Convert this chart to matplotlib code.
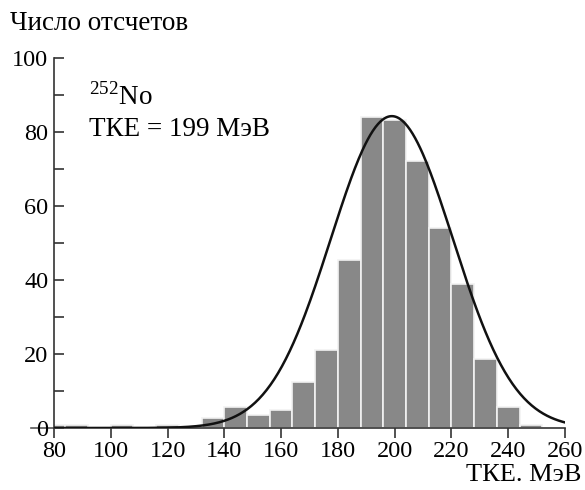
import numpy as np
import matplotlib
matplotlib.use("Agg")
from matplotlib import pyplot as plt
from matplotlib.ticker import MultipleLocator

# histogram of TKE, 8 MeV bins (left edges)
bin_left = [76, 84, 92, 100, 108, 116, 124, 132, 140, 148, 156, 164, 172,
            180, 188, 196, 204, 212, 220, 228, 236, 244]
counts = [0.8, 0.8, 0, 0.8, 0, 0.8, 0, 2.6, 5.8, 3.4, 4.8, 12.5, 21.2,
          45.5, 84.0, 83.2, 72.3, 54.0, 38.8, 18.7, 5.8, 0.9]
bin_width = 8

# gaussian fit
fit_mean = 199.0
fit_sigma = 21.5
fit_amp = 84.3

plt.rcParams['font.family'] = ['Liberation Serif', 'DejaVu Serif']
plt.rcParams['mathtext.fontset'] = 'custom'
plt.rcParams['mathtext.rm'] = 'Liberation Serif'

fig = plt.figure(figsize=(5.85, 4.9), dpi=100)
ax = fig.add_axes([0.0923, 0.1265, 0.8735, 0.755])

ax.bar(bin_left, counts, width=bin_width, align='edge', color='#888888',
       edgecolor='#f2f2f2', linewidth=1.2, zorder=2)

xs = np.linspace(80, 260, 400)
ax.plot(xs, fit_amp * np.exp(-(xs - fit_mean) ** 2 / (2 * fit_sigma ** 2)),
        c='#111111', lw=1.8, zorder=3)

ax.set_xlim(80, 260)
ax.set_ylim(0, 100)
ax.spines['top'].set_visible(False)
ax.spines['right'].set_visible(False)
ax.spines['left'].set_linewidth(1.2)
ax.spines['bottom'].set_linewidth(1.2)
ax.spines['left'].set_color('#333333')
ax.spines['bottom'].set_color('#333333')

ax.xaxis.set_major_locator(MultipleLocator(20))
ax.yaxis.set_major_locator(MultipleLocator(20))
ax.yaxis.set_minor_locator(MultipleLocator(10))
ax.tick_params(axis='x', direction='out', length=7, width=1.2, color='#333333',
               labelsize=17.5, pad=2)
ax.tick_params(axis='y', which='major', direction='in', length=7, width=1.2,
               color='#333333', labelsize=17.5, pad=4)
ax.tick_params(axis='y', which='minor', direction='in', length=7, width=1.2,
               color='#333333')

# short baseline stub left of the y axis
ax.plot([72, 80], [0, 0], c='#555555', lw=1.2, clip_on=False, zorder=1)

ax.text(0.068, 0.895, r'$^{252}$No', transform=ax.transAxes, fontsize=19.5,
        va='center', ha='left')
ax.text(0.068, 0.808, 'ТКЕ = 199 МэВ', transform=ax.transAxes, fontsize=19.5,
        va='center', ha='left')

fig.text(0.017, 0.953, 'Число отсчетов', fontsize=19.5, va='center', ha='left')
fig.text(0.994, 0.03, 'ТКЕ. МэВ', fontsize=19, va='center', ha='right')

fig.savefig('out.png', dpi=100)
